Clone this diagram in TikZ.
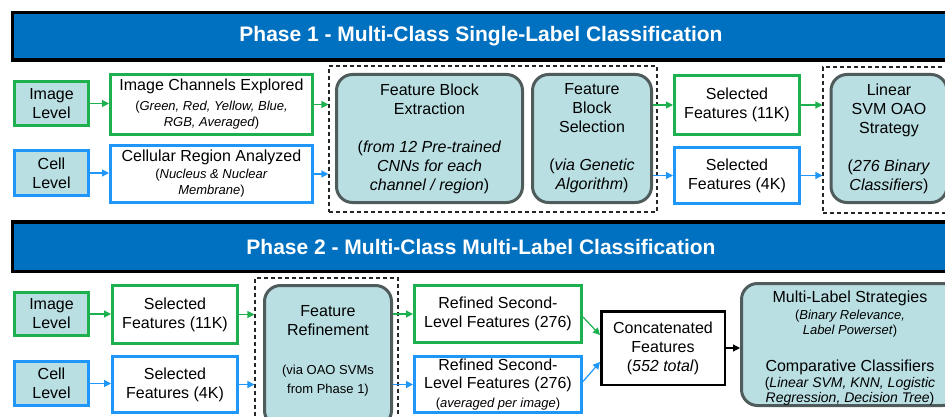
\documentclass[tikz,border=0pt]{standalone}
\usepackage{fontspec}
\setmainfont{Liberation Sans}
\usetikzlibrary{arrows.meta,calc}
\definecolor{gr}{HTML}{1DB04E}
\definecolor{bl}{HTML}{1E96FA}
\definecolor{tealfill}{HTML}{B9DFE3}
\definecolor{bordgray}{HTML}{505C5C}
\definecolor{bannerblue}{HTML}{0070C0}
\newcommand\fsmain{\fontsize{16}{19}\selectfont}
\newcommand\fssub{\fontsize{13}{16}\selectfont}
\newcommand\fssubb{\fontsize{14}{16}\selectfont}
\begin{document}
\begin{tikzpicture}[x=1pt,y=-1pt,
  bann/.style={draw=black, line width=3.5, fill=bannerblue, text=white, font=\fontsize{21}{25}\selectfont\bfseries, minimum width=937, inner sep=0},
  lvl/.style={line width=3, fill=tealfill, font=\fsmain, align=center, minimum width=74, inner sep=0},
  wbox/.style={line width=3, fill=white, font=\fsmain, align=center, inner sep=0},
  rbox/.style={draw=bordgray, line width=3, fill=tealfill, rounded corners=16, font=\fsmain, align=center, inner sep=0},
  txt/.style={font=\fsmain, align=center, inner sep=0},
  dbox/.style={draw=black!85, line width=1.1, dash pattern=on 4pt off 3pt, inner sep=0},
  grn/.style={draw=gr}, blu/.style={draw=bl},
  ga/.style={draw=gr, line width=1.2, -{Triangle[length=7pt,width=7pt]}},
  ba/.style={draw=bl, line width=1.2, -{Triangle[length=7pt,width=7pt]}},
  ka/.style={draw=black, line width=1.2, -{Triangle[length=7pt,width=7pt]}}]
\useasboundingbox (0,0) rectangle (945,417);
\clip (0,0) rectangle (945,417);
\fill[white] (0,0) rectangle (945,417);

% ---------- Phase 1 ----------
\node[bann, minimum height=47.5] (p1) at (481,36.5) {Phase 1 - Multi-Class Single-Label Classification};

\node[dbox, minimum width=328, minimum height=146] (d1) at (493,139) {};
\node[dbox, minimum width=137, minimum height=146] (d2) at (891.5,140) {};

\node[lvl, grn, minimum height=44] (il1) at (51.5,103.5) {Image\\Level};
\node[lvl, blu, minimum height=45] (cl1) at (51.5,173) {Cell\\Level};

\node[wbox, grn, minimum width=202, minimum height=60] (ice) at (211.5,104.5)
  {Image Channels Explored\\[1pt]{\fssub(\textit{Green, Red, Yellow, Blue,}}\\[-3pt]{\fssub\textit{RGB, Averaged})}};
\node[wbox, blu, minimum width=202, minimum height=57] (cra) at (211.5,174)
  {Cellular Region Analyzed\\[-2pt]{\fssub(\textit{Nucleus \& Nuclear}}\\[-3pt]{\fssub\textit{Membrane})}};

\node[rbox, minimum width=186, minimum height=128] (fbe) at (429.5,138.5)
  {Feature Block\\Extraction\\[19pt](\textit{from 12 Pre-trained}\\\textit{CNNs for each}\\\textit{channel / region})};
\node[rbox, minimum width=119, minimum height=128] (fbs) at (592,138.5)
  {Feature\\Block\\Selection\\[19pt](\textit{via Genetic}\\\textit{Algorithm})};

\node[wbox, grn, minimum width=125, minimum height=59] (sf11) at (737,105) {Selected\\Features (11K)};
\node[wbox, blu, minimum width=125, minimum height=56] (sf4) at (737,175.5) {Selected\\Features (4K)};

\node[rbox, minimum width=116, minimum height=128] (svm) at (889,138.5)
  {Linear\\SVM OAO\\Strategy\\[19pt](\textit{276 Binary}\\\textit{Classifiers})};

\draw[ga] (il1.east) -- (il1.east -| ice.west);
\draw[ba] (cl1.east) -- (cl1.east -| cra.west);
\draw[ga] (ice.east) -- (ice.east -| d1.west);
\draw[ba] (cra.east) -- (cra.east -| d1.west);
\draw[ga] (fbs.east |- sf11.west) -- (sf11.west);
\draw[ba] (fbs.east |- sf4.west) -- (sf4.west);
\draw[ga] (sf11.east) -- (sf11.east -| d2.west);
\draw[ba] (sf4.east) -- (sf4.east -| d2.west);

% ---------- Phase 2 ----------
\node[bann, minimum height=49.5] (p2) at (481,246.5) {Phase 2 - Multi-Class Multi-Label Classification};

\node[dbox, minimum width=143, minimum height=147] (d3) at (326.5,351.5) {};

\node[lvl, grn, minimum height=43] (il2) at (51.5,314) {Image\\Level};
\node[lvl, blu, minimum height=44] (cl2) at (51.5,383.5) {Cell\\Level};

\node[wbox, grn, minimum width=125, minimum height=58] (sf11b) at (175,314.5) {Selected\\Features (11K)};
\node[wbox, blu, minimum width=125, minimum height=56] (sf4b) at (175,384.5) {Selected\\Features (4K)};

\node[rbox, minimum width=127, minimum height=141] (fr) at (328,356) {};
\node[txt] (frt) at (328,350.5) {Feature\\Refinement\\[20pt]{\fssub(via OAO SVMs}\\{\fssub from Phase 1)}};

\node[wbox, grn, minimum width=167, minimum height=57] (rs1) at (498,314) {Refined Second-\\Level Features (276)};
\node[wbox, blu, minimum width=167, minimum height=56] (rs2) at (498,384.5)
  {Refined Second-\\[-1pt]Level Features (276)\\{\fssub(\textit{averaged per image})}};

\node[wbox, draw=black, line width=2.5, minimum width=123.5, minimum height=73.5] (cat) at (663,348)
  {Concatenated\\Features\\(\textit{552 total})};

\node[rbox, minimum width=217, minimum height=122] (ml) at (850,344.5) {};
\node[txt] (mlt) at (850,348)
  {Multi-Label Strategies\\[-2pt]{\fssub(\textit{Binary Relevance,}}\\[-4pt]{\fssub\textit{Label Powerset})}\\[18pt]Comparative Classifiers\\[-3pt]{\fssubb(\textit{Linear SVM, KNN, Logistic}}\\[-4pt]{\fssubb\textit{Regression, Decision Tree})}};

\draw[ga] (il2.east) -- (il2.east -| sf11b.west);
\draw[ba] (cl2.east) -- (cl2.east -| sf4b.west);
\draw[ga] (sf11b.east) -- (sf11b.east -| d3.west);
\draw[ba] (sf4b.east) -- (sf4b.east -| d3.west);
\draw[ga] (fr.east |- rs1.west) -- (rs1.west);
\draw[ba] (fr.east |- rs2.west) -- (rs2.west);
\draw[ga] ($(rs1.east)+(0,3)$) -- ($(cat.west)+(0,-13)$);
\draw[ba] ($(rs2.east)+(0,-3)$) -- ($(cat.west)+(0,14)$);
\draw[ka] (cat.east) -- (cat.east -| ml.west);
\end{tikzpicture}
\end{document}
